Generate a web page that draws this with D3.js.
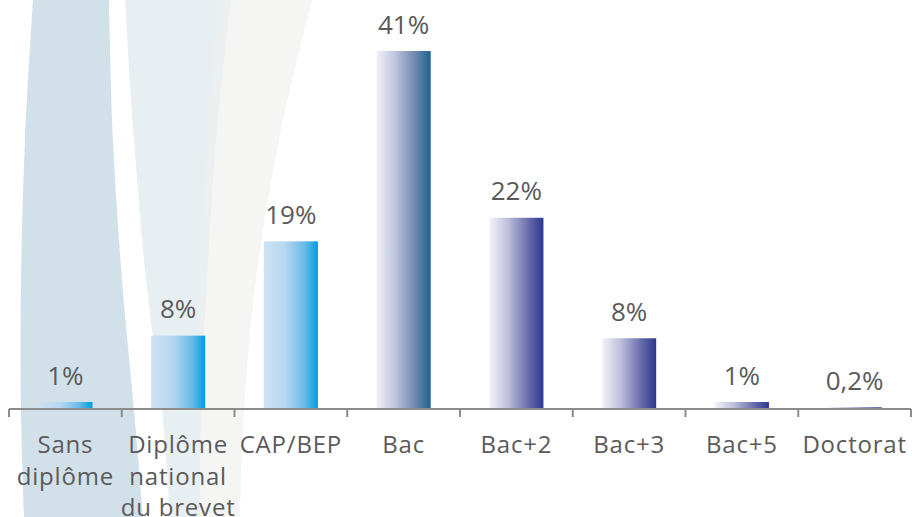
<!DOCTYPE html>
<html>
<head>
<meta charset="utf-8">
<script src="https://cdn.jsdelivr.net/npm/d3@7"></script>
<style>
  html, body { margin: 0; padding: 0; background: #ffffff; }
  svg { display: block; }
  text { font-family: "Open Sans", "Noto Sans", sans-serif; fill: #5a5a5a; }
</style>
</head>
<body>
<svg id="chart" width="912" height="517"></svg>
<script>
// ---- data ----
const categories = ["Sans diplôme", "Diplôme national du brevet", "CAP/BEP", "Bac", "Bac+2", "Bac+3", "Bac+5", "Doctorat"];
const values = [0.8, 8.4, 19.2, 41, 21.9, 8.1, 0.8, 0.2];
const valueLabels = ["1%", "8%", "19%", "41%", "22%", "8%", "1%", "0,2%"];
const colorGroups = ["blue", "blue", "blue", "steel", "navy", "navy", "navy", "navy"];

const W = 912, H = 517;
const svg = d3.select("#chart");
const defs = svg.append("defs");

// gradients
const grads = {
  blue: [[0, "#cfe2f4"], [0.4, "#b5d7f1"], [0.75, "#6bbbe8"], [1, "#009ddd"]],
  steel: [[0, "#f1f2f7"], [0.35, "#bcc3dc"], [0.7, "#7389b1"], [1, "#1d6391"]],
  navy: [[0, "#f3f3f9"], [0.35, "#bdbddc"], [0.7, "#6e70ae"], [1, "#2b368e"]]
};
Object.entries(grads).forEach(([id, stops]) => {
  const g = defs.append("linearGradient").attr("id", "g-" + id)
    .attr("x1", "0%").attr("x2", "100%").attr("y1", "0%").attr("y2", "0%");
  stops.forEach(([o, c]) => g.append("stop").attr("offset", o).attr("stop-color", c));
});

// ---- decorative background swooshes ----
const curve = d3.line().curve(d3.curveCatmullRom);
function shape(left, right) {
  return curve(left) + "L" + curve(right.slice().reverse()).slice(1) + "Z";
}
const bg = svg.append("g");
bg.append("path")
  .attr("d", shape([[33,0],[25,140],[21,280],[21,410],[24,517]],
                   [[109,0],[113,140],[122,280],[134,410],[143,517]]))
  .attr("fill", "#d2e0ea");
bg.append("path")
  .attr("d", shape([[125,0],[134,140],[146,280],[162,410],[170,517]],
                   [[231,0],[216,140],[207,280],[201,410],[200,517]]))
  .attr("fill", "#e8eff3");
bg.append("path")
  .attr("d", shape([[217,0],[207,140],[199,280],[200,410],[200,517]],
                   [[312,0],[279,140],[256,280],[244,410],[240,517]]))
  .attr("fill", "#eeeeec").attr("fill-opacity", 0.6);

// ---- scales ----
const x = d3.scaleBand().domain(categories).range([9, 911]).paddingInner(0.52).paddingOuter(0.26);
const y = d3.scaleLinear().domain([0, 41]).range([409, 51]);
const step = x.step();

// bars
svg.append("g").selectAll("rect").data(categories).join("rect")
  .attr("x", d => x(d))
  .attr("width", x.bandwidth())
  .attr("y", (d, i) => y(values[i]))
  .attr("height", (d, i) => y(0) - y(values[i]))
  .attr("fill", (d, i) => "url(#g-" + colorGroups[i] + ")");

// value labels
svg.append("g").selectAll("text").data(categories).join("text")
  .attr("x", d => x(d) + x.bandwidth() / 2)
  .attr("y", (d, i) => y(values[i]) - 17.5)
  .attr("text-anchor", "middle")
  .style("font-size", "26px")
  .text((d, i) => valueLabels[i]);

// axis
const axis = d3.axisBottom(x).tickSize(0).tickFormat("");
const ax = svg.append("g").attr("transform", "translate(0," + y(0) + ")").call(axis);
ax.select(".domain").remove();
ax.append("line").attr("x1", 9).attr("x2", 911).attr("y1", 0).attr("y2", 0)
  .attr("stroke", "#8c8c8c").attr("stroke-width", 2);
const tickPos = categories.map(c => x(c) + x.bandwidth() / 2 - step / 2).concat([911]);
ax.selectAll(".tk").data(tickPos).join("line").attr("class", "tk")
  .attr("x1", d => d).attr("x2", d => d).attr("y1", 0).attr("y2", 8)
  .attr("stroke", "#8c8c8c").attr("stroke-width", 2);

// category labels with wrapping
const wrapWidth = 122;
const lbl = svg.append("g").selectAll("text").data(categories).join("text")
  .attr("x", d => x(d) + x.bandwidth() / 2)
  .attr("y", 453)
  .attr("text-anchor", "middle")
  .style("font-size", "24px")
  .style("letter-spacing", "0.8px");
lbl.each(function (d) {
  const t = d3.select(this);
  const cx = +t.attr("x");
  const words = d.split(" ");
  let line = [];
  let ts = t.append("tspan").attr("x", cx).attr("dy", 0);
  words.forEach(w => {
    line.push(w);
    ts.text(line.join(" "));
    if (ts.node().getComputedTextLength() > wrapWidth && line.length > 1) {
      line.pop();
      ts.text(line.join(" "));
      line = [w];
      ts = t.append("tspan").attr("x", cx).attr("dy", 31.5).text(w);
    }
  });
});
</script>
</body>
</html>
